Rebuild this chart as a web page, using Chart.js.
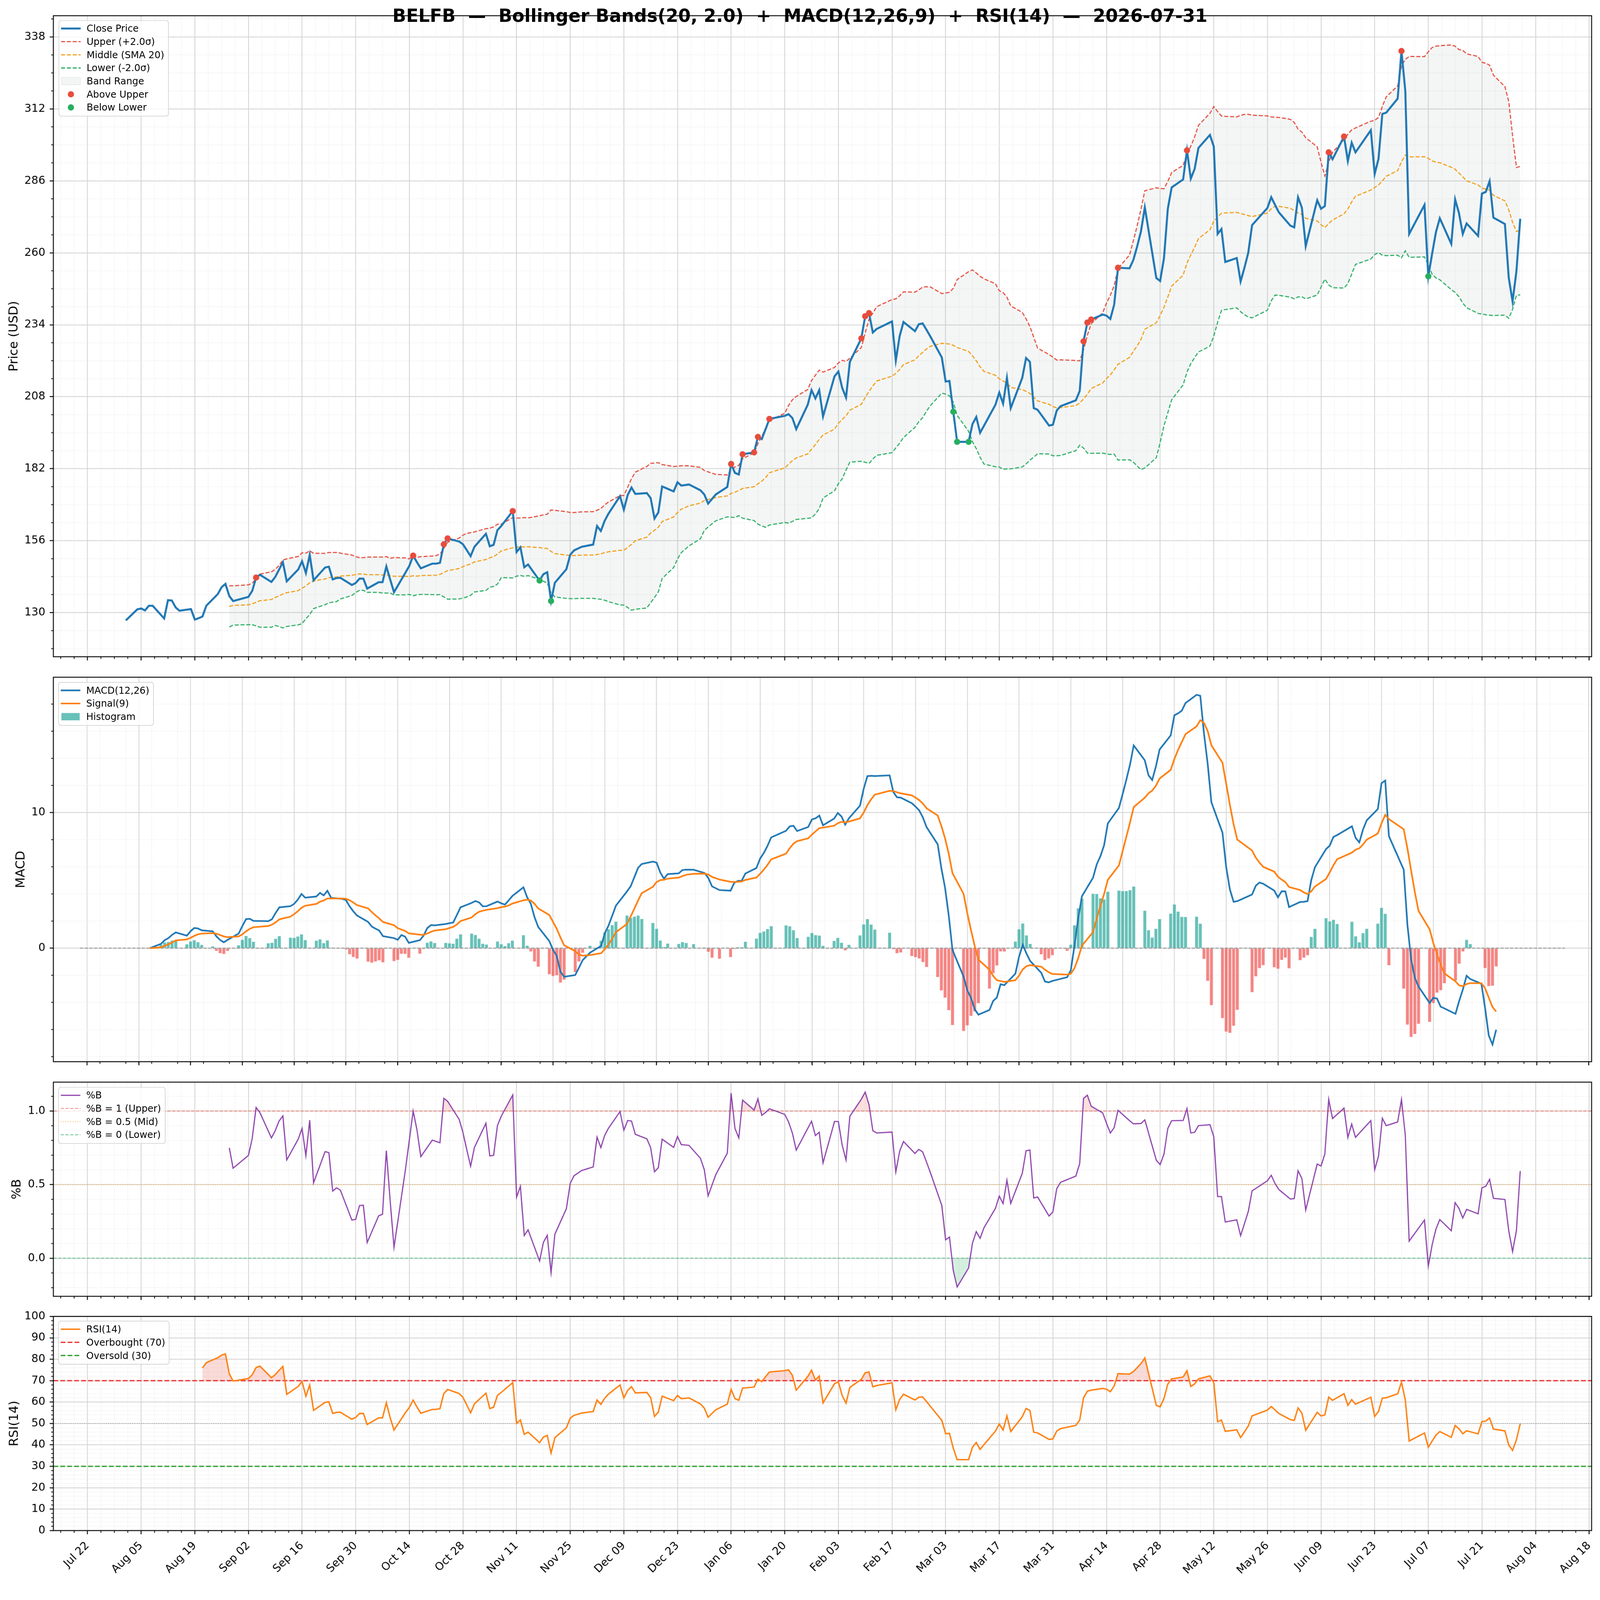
<!DOCTYPE html>
<html>
<head>
<meta charset="utf-8">
<title>BELFB Bollinger / MACD / RSI</title>
<script src="https://cdn.jsdelivr.net/npm/chart.js@4.4.1/dist/chart.umd.min.js"></script>
<style>
  html, body { margin: 0; padding: 0; background: #fff; width: 100%; height: 100%; overflow: hidden; font-family: 'DejaVu Sans', sans-serif; }
  #page { position: absolute; left: 0; top: 0; width: 4378px; height: 4322px; overflow: hidden; transform-origin: 0 0; background: #fff; }
  canvas { position: absolute; left: 0; }
  .title { position: absolute; left: 0; top: 20px; width: 4378px; text-align: center; font-weight: bold; font-size: 49px; line-height: 48px; white-space: pre; z-index: 5; }
  .legend { position: absolute; z-index: 5; background: rgba(255,255,255,0.8); border: 2.5px solid #d4d4d4; border-radius: 8px; padding: 3px 10px 5px 5px; font-size: 26px; }
  .legend .row { display: flex; align-items: center; height: 36px; white-space: pre; }
  .legend svg { width: 54px; height: 24px; margin-right: 16px; flex: none; }
</style>
</head>
<body>
<div id="page">
<div class="title">BELFB  —  Bollinger Bands(20, 2.0)  +  MACD(12,26,9)  +  RSI(14)  —  2026-07-31</div>

<canvas id="priceChart"></canvas>
<canvas id="macdChart"></canvas>
<canvas id="pctbChart"></canvas>
<canvas id="rsiChart"></canvas>

<div class="legend" style="left:160px; top:55px;">
  <div class="row"><svg><line x1="0" y1="12" x2="54" y2="12" stroke="#1f77b4" stroke-width="5.5"/></svg>Close Price</div>
  <div class="row"><svg><line x1="0" y1="12" x2="54" y2="12" stroke="#e74c3c" stroke-width="3" stroke-dasharray="11 5"/></svg>Upper (+2.0σ)</div>
  <div class="row"><svg><line x1="0" y1="12" x2="54" y2="12" stroke="#f39c12" stroke-width="3" stroke-dasharray="11 5"/></svg>Middle (SMA 20)</div>
  <div class="row"><svg><line x1="0" y1="12" x2="54" y2="12" stroke="#27ae60" stroke-width="3" stroke-dasharray="11 5"/></svg>Lower (-2.0σ)</div>
  <div class="row"><svg><rect x="1" y="2" width="52" height="20" fill="rgba(149,165,166,0.1)" stroke="rgba(149,165,166,0.18)" stroke-width="2"/></svg>Band Range</div>
  <div class="row"><svg><circle cx="27" cy="12" r="8.5" fill="#e74c3c"/></svg>Above Upper</div>
  <div class="row"><svg><circle cx="27" cy="12" r="8.5" fill="#27ae60"/></svg>Below Lower</div>
</div>

<div class="legend" style="left:159px; top:1866px;">
  <div class="row"><svg><line x1="0" y1="12" x2="54" y2="12" stroke="#1f77b4" stroke-width="4.5"/></svg>MACD(12,26)</div>
  <div class="row"><svg><line x1="0" y1="12" x2="54" y2="12" stroke="#ff7f0e" stroke-width="4.5"/></svg>Signal(9)</div>
  <div class="row"><svg><rect x="2" y="2" width="50" height="20" fill="rgba(38,166,154,0.7)"/></svg>Histogram</div>
</div>

<div class="legend" style="left:159px; top:2974px;">
  <div class="row"><svg><line x1="0" y1="12" x2="54" y2="12" stroke="#8e44ad" stroke-width="3.2"/></svg>%B</div>
  <div class="row"><svg><line x1="0" y1="12" x2="54" y2="12" stroke="rgba(231,76,60,0.6)" stroke-width="2.5" stroke-dasharray="9 4"/></svg>%B = 1 (Upper)</div>
  <div class="row"><svg><line x1="0" y1="12" x2="54" y2="12" stroke="rgba(243,156,18,0.6)" stroke-width="2.5" stroke-dasharray="2.5 4"/></svg>%B = 0.5 (Mid)</div>
  <div class="row"><svg><line x1="0" y1="12" x2="54" y2="12" stroke="rgba(39,174,96,0.6)" stroke-width="2.5" stroke-dasharray="9 4"/></svg>%B = 0 (Lower)</div>
</div>

<div class="legend" style="left:159px; top:3614px;">
  <div class="row"><svg><line x1="0" y1="12" x2="54" y2="12" stroke="#ff7f0e" stroke-width="3.8"/></svg>RSI(14)</div>
  <div class="row"><svg><line x1="0" y1="12" x2="54" y2="12" stroke="#ee3333" stroke-width="3.5" stroke-dasharray="13 6"/></svg>Overbought (70)</div>
  <div class="row"><svg><line x1="0" y1="12" x2="54" y2="12" stroke="#2ca02c" stroke-width="3.5" stroke-dasharray="13 6"/></svg>Oversold (30)</div>
</div>
</div>

<script>
// ---- data (trading days, NYSE holidays absent) ----
const tradeDates = [
  '2025-08-01','2025-08-04','2025-08-05','2025-08-06','2025-08-07','2025-08-08','2025-08-11','2025-08-12','2025-08-13','2025-08-14','2025-08-15','2025-08-18','2025-08-19','2025-08-20','2025-08-21','2025-08-22','2025-08-25','2025-08-26','2025-08-27','2025-08-28','2025-08-29',
  '2025-09-02','2025-09-03','2025-09-04','2025-09-05','2025-09-08','2025-09-09','2025-09-10','2025-09-11','2025-09-12','2025-09-15','2025-09-16','2025-09-17','2025-09-18','2025-09-19','2025-09-22','2025-09-23','2025-09-24','2025-09-25','2025-09-26','2025-09-29','2025-09-30',
  '2025-10-01','2025-10-02','2025-10-03','2025-10-06','2025-10-07','2025-10-08','2025-10-09','2025-10-10','2025-10-13','2025-10-14','2025-10-15','2025-10-16','2025-10-17','2025-10-20','2025-10-21','2025-10-22','2025-10-23','2025-10-24','2025-10-27','2025-10-28','2025-10-29','2025-10-30','2025-10-31',
  '2025-11-03','2025-11-04','2025-11-05','2025-11-06','2025-11-07','2025-11-10','2025-11-11','2025-11-12','2025-11-13','2025-11-14','2025-11-17','2025-11-18','2025-11-19','2025-11-20','2025-11-21','2025-11-24','2025-11-25','2025-11-26','2025-11-28',
  '2025-12-01','2025-12-02','2025-12-03','2025-12-04','2025-12-05','2025-12-08','2025-12-09','2025-12-10','2025-12-11','2025-12-12','2025-12-15','2025-12-16','2025-12-17','2025-12-18','2025-12-19','2025-12-22','2025-12-23','2025-12-24','2025-12-26','2025-12-29','2025-12-30','2025-12-31',
  '2026-01-02','2026-01-05','2026-01-06','2026-01-07','2026-01-08','2026-01-09','2026-01-12','2026-01-13','2026-01-14','2026-01-15','2026-01-16','2026-01-20','2026-01-21','2026-01-22','2026-01-23','2026-01-26','2026-01-27','2026-01-28','2026-01-29','2026-01-30',
  '2026-02-02','2026-02-03','2026-02-04','2026-02-05','2026-02-06','2026-02-09','2026-02-10','2026-02-11','2026-02-12','2026-02-13','2026-02-17','2026-02-18','2026-02-19','2026-02-20','2026-02-23','2026-02-24','2026-02-25','2026-02-26','2026-02-27',
  '2026-03-02','2026-03-03','2026-03-04','2026-03-05','2026-03-06','2026-03-09','2026-03-10','2026-03-11','2026-03-12','2026-03-13','2026-03-16','2026-03-17','2026-03-18','2026-03-19','2026-03-20','2026-03-23','2026-03-24','2026-03-25','2026-03-26','2026-03-27','2026-03-30','2026-03-31',
  '2026-04-01','2026-04-02','2026-04-06','2026-04-07','2026-04-08','2026-04-09','2026-04-10','2026-04-13','2026-04-14','2026-04-15','2026-04-16','2026-04-17','2026-04-20','2026-04-21','2026-04-22','2026-04-23','2026-04-24','2026-04-27','2026-04-28','2026-04-29','2026-04-30',
  '2026-05-01','2026-05-04','2026-05-05','2026-05-06','2026-05-07','2026-05-08','2026-05-11','2026-05-12','2026-05-13','2026-05-14','2026-05-15','2026-05-18','2026-05-19','2026-05-20','2026-05-21','2026-05-22','2026-05-26','2026-05-27','2026-05-28','2026-05-29',
  '2026-06-01','2026-06-02','2026-06-03','2026-06-04','2026-06-05','2026-06-08','2026-06-09','2026-06-10','2026-06-11','2026-06-12','2026-06-15','2026-06-16','2026-06-17','2026-06-18','2026-06-22','2026-06-23','2026-06-24','2026-06-25','2026-06-26','2026-06-29','2026-06-30',
  '2026-07-01','2026-07-02','2026-07-06','2026-07-07','2026-07-08','2026-07-09','2026-07-10','2026-07-13','2026-07-14','2026-07-15','2026-07-16','2026-07-17','2026-07-20','2026-07-21','2026-07-22','2026-07-23','2026-07-24','2026-07-27','2026-07-28','2026-07-29','2026-07-30','2026-07-31'
];

const closePrice = [
  127.2, 131.2, 131.5, 130.8, 132.5, 132.5, 127.9, 134.5, 134.4, 131.9, 130.7, 131.3, 127.5, 128.0, 128.6, 132.5, 136.7, 139.2, 140.4, 136.0, 134.2,
  135.7, 137.9, 142.7, 143.7, 141.1, 142.9, 145.6, 148.2, 141.3, 145.6, 148.6, 144.3, 150.9, 141.7, 146.3, 146.6, 142.0, 142.5, 142.6, 140.0, 140.7,
  142.3, 142.3, 138.7, 141.0, 141.0, 146.7, 142.0, 137.4, 144.5, 146.9, 150.6, 148.2, 146.0, 147.7, 147.7, 148.0, 154.7, 156.8, 155.7, 154.7, 152.6, 150.4, 153.8,
  158.5, 154.0, 154.5, 159.8, 161.3, 166.7, 151.9, 153.6, 146.4, 147.4, 141.6, 143.9, 144.6, 134.2, 140.8, 145.7, 150.9, 152.5, 153.8,
  154.6, 161.3, 159.5, 163.2, 165.8, 172.1, 167.2, 172.5, 175.2, 172.9, 173.2, 171.4, 164.0, 166.2, 175.6, 173.8, 177.1, 175.9, 176.3, 174.2, 172.7, 169.4,
  172.7, 175.4, 183.7, 180.5, 179.9, 187.2, 187.9, 193.5, 192.7, 196.3, 200.0, 201.1, 201.7, 200.3, 196.3, 205.1, 210.4, 207.4, 210.4, 200.9,
  215.4, 217.1, 211.2, 207.7, 220.6, 229.1, 237.1, 238.2, 231.2, 232.5, 235.2, 221.1, 229.9, 235.0, 231.7, 234.2, 234.5, 232.2, 229.8,
  222.2, 213.5, 213.7, 202.6, 191.7, 191.7, 198.1, 200.7, 195.0, 197.5, 205.1, 209.5, 205.5, 214.8, 203.9, 214.8, 222.0, 220.6, 203.9, 203.3, 197.6, 197.9,
  203.0, 204.6, 206.7, 210.1, 228.0, 234.8, 235.9, 237.7, 237.3, 236.1, 241.3, 254.6, 254.4, 257.4, 262.3, 267.8, 276.4, 250.9, 249.8, 258.1, 275.9,
  283.6, 286.5, 297.0, 286.8, 290.3, 297.9, 302.6, 298.4, 266.8, 268.6, 256.7, 258.1, 249.6, 254.6, 260.0, 270.0, 276.2, 280.1, 277.3, 274.6,
  269.8, 269.2, 280.1, 276.3, 262.4, 279.0, 275.9, 276.9, 296.3, 293.8, 302.0, 293.1, 299.8, 296.3, 304.3, 288.5, 293.9, 310.2, 310.6, 315.7, 332.9,
  318.4, 266.8, 277.3, 251.5, 259.7, 267.5, 272.5, 263.2, 279.3, 274.4, 266.8, 270.6, 266.1, 281.4, 282.0, 285.9, 272.7, 270.4, 251.0, 242.4, 253.3, 272.3
];

const xTickDates = ['2025-07-22','2025-08-05','2025-08-19','2025-09-02','2025-09-16','2025-09-30','2025-10-14','2025-10-28','2025-11-11','2025-11-25','2025-12-09','2025-12-23',
  '2026-01-06','2026-01-20','2026-02-03','2026-02-17','2026-03-03','2026-03-17','2026-03-31','2026-04-14','2026-04-28','2026-05-12','2026-05-26','2026-06-09','2026-06-23',
  '2026-07-07','2026-07-21','2026-08-04','2026-08-18'];
const xTickLabels = ['Jul 22','Aug 05','Aug 19','Sep 02','Sep 16','Sep 30','Oct 14','Oct 28','Nov 11','Nov 25','Dec 09','Dec 23',
  'Jan 06','Jan 20','Feb 03','Feb 17','Mar 03','Mar 17','Mar 31','Apr 14','Apr 28','May 12','May 26','Jun 09','Jun 23',
  'Jul 07','Jul 21','Aug 04','Aug 18'];

const priceTicks = [130, 156, 182, 208, 234, 260, 286, 312, 338];
const macdTicks = [0, 10];
const pctbTicks = [0, 0.5, 1];
const rsiTicks = [0, 10, 20, 30, 40, 50, 60, 70, 80, 90, 100];
const pctbLevels = [1, 0.5, 0];
const rsiLevels = [70, 50, 30];

// ---- layout (pixels in the 4378 x 4322 page) ----
const PAGE_W = 4378, PAGE_H = 4322;
const PLOT_LEFT = 146, PLOT_RIGHT = 4355, CANVAS_W = 4440, PAD_TOP = 40;
const PANELS = {
  price: { top: 43, bottom: 1797 },
  macd:  { top: 1853, bottom: 2905 },
  pctb:  { top: 2961, bottom: 3547 },
  rsi:   { top: 3602, bottom: 4188 }
};
const X_MIN = -8.92, X_MAX = 392.63;   // days after 2025-07-22

// keep the whole figure inside the viewport, whatever its css size
const fit = Math.min(1, window.innerWidth / PAGE_W, window.innerHeight / PAGE_H);
document.getElementById('page').style.transform = 'scale(' + fit + ')';

const BLUE = '#1f77b4', ORANGE = '#ff7f0e';
const UP_RED = '#e74c3c', MID_ORANGE = '#f39c12', LO_GREEN = '#27ae60';
const BAND_FILL = 'rgba(149,165,166,0.1)';
const GRID_MAJOR = '#d2d2d2', GRID_MINOR = '#e0e0e0';
const NONE = 'rgba(0,0,0,0)';

Chart.defaults.font.family = "'DejaVu Sans', sans-serif";
Chart.defaults.color = '#000';

const DAY0 = Date.UTC(2025, 6, 22);
function dayOf(s) {
  const [y, m, d] = s.split('-').map(Number);
  return (Date.UTC(y, m - 1, d) - DAY0) / 86400000;
}
const xs = tradeDates.map(dayOf);

// ---- indicator series derived from the close readings (as the title defines) ----
const midBand = [], upperBand = [], lowerBand = [];
for (let i = 0; i < closePrice.length; i++) {
  if (i < 19) { midBand.push(null); upperBand.push(null); lowerBand.push(null); continue; }
  const win = closePrice.slice(i - 19, i + 1);
  const m = win.reduce((a, b) => a + b, 0) / 20;
  const sd = Math.sqrt(win.reduce((a, b) => a + (b - m) * (b - m), 0) / 19);
  midBand.push(m); upperBand.push(m + 2 * sd); lowerBand.push(m - 2 * sd);
}
const pctB = closePrice.map((c, i) => upperBand[i] === null ? null : (c - lowerBand[i]) / (upperBand[i] - lowerBand[i]));

function ema(arr, span) {
  const a = 2 / (span + 1), out = [arr[0]];
  for (let i = 1; i < arr.length; i++) out.push(a * arr[i] + (1 - a) * out[i - 1]);
  return out;
}
const ema12 = ema(closePrice, 12), ema26 = ema(closePrice, 26);
const macdLine = ema12.map((v, i) => v - ema26[i]);
const signalLine = ema(macdLine, 9);
const histogram = macdLine.map((v, i) => v - signalLine[i]);

const rsi = closePrice.map(() => null);
let avgGain = 0, avgLoss = 0;
for (let i = 1; i < closePrice.length; i++) {
  const d = closePrice[i] - closePrice[i - 1];
  const g = Math.max(d, 0), l = Math.max(-d, 0);
  if (i === 1) { avgGain = g; avgLoss = l; }
  else { avgGain = avgGain * 13 / 14 + g / 14; avgLoss = avgLoss * 13 / 14 + l / 14; }
  if (i >= 14) rsi[i] = avgLoss === 0 ? 100 : 100 - 100 / (1 + avgGain / avgLoss);
}

const pts = ys => ys.map((y, i) => ({ x: xs[i], y })).filter(p => p.y !== null);
const hline = v => [{ x: X_MIN, y: v }, { x: X_MAX, y: v }];
const aboveUpper = closePrice.map((c, i) => ({ x: xs[i], y: c, hit: upperBand[i] !== null && c > upperBand[i] })).filter(p => p.hit);
const belowLower = closePrice.map((c, i) => ({ x: xs[i], y: c, hit: lowerBand[i] !== null && c < lowerBand[i] })).filter(p => p.hit);

// minor tick positions (like matplotlib's AutoMinorLocator)
function minorSteps(from, to, step, isMajor) {
  const out = [];
  for (let k = Math.ceil(from / step - 1e-9); k * step <= to + 1e-9; k++) {
    const v = +(k * step).toFixed(6);
    if (!isMajor(v)) out.push(v);
  }
  return out;
}
const minorX = minorSteps(X_MIN, X_MAX, 3.5, v => Math.abs(v % 14) < 1e-6);

// minor grid, minor ticks and the four spines
const axesDecor = {
  id: 'axesDecor',
  beforeDatasetsDraw(chart, args, opts) {
    const { ctx, chartArea: a, scales: { x, y } } = chart;
    ctx.save();
    ctx.strokeStyle = GRID_MINOR; ctx.lineWidth = 1.6; ctx.setLineDash([1.6, 3.2]);
    ctx.beginPath();
    opts.minorY.forEach(v => { const p = y.getPixelForValue(v); ctx.moveTo(a.left, p); ctx.lineTo(a.right, p); });
    minorX.forEach(v => { const p = x.getPixelForValue(v); ctx.moveTo(p, a.top); ctx.lineTo(p, a.bottom); });
    ctx.stroke();
    ctx.setLineDash([]); ctx.strokeStyle = '#000'; ctx.lineWidth = 2;
    ctx.beginPath();
    opts.minorY.forEach(v => { const p = y.getPixelForValue(v); ctx.moveTo(a.left, p); ctx.lineTo(a.left - 6, p); });
    minorX.forEach(v => { const p = x.getPixelForValue(v); ctx.moveTo(p, a.bottom); ctx.lineTo(p, a.bottom + 6); });
    ctx.stroke();
    ctx.restore();
  },
  afterDraw(chart) {
    const { ctx, chartArea: a } = chart;
    ctx.save();
    ctx.strokeStyle = '#000'; ctx.lineWidth = 2.5;
    ctx.strokeRect(a.left, a.top, a.right - a.left, a.bottom - a.top);
    ctx.restore();
  }
};

function xScale(showLabels, height) {
  return {
    type: 'linear', min: X_MIN, max: X_MAX,
    afterBuildTicks: s => { s.ticks = xTickDates.map(d => ({ value: dayOf(d) })); },
    afterFit: s => { s.height = height; },
    ticks: { autoSkip: false, minRotation: 45, maxRotation: 45, padding: 14, color: '#000', font: { size: 30 },
      callback: (v, i) => showLabels ? xTickLabels[i] : '' },
    grid: { color: GRID_MAJOR, lineWidth: 2.2, tickLength: 10, tickColor: '#000', tickWidth: 2.5 },
    border: { display: false }
  };
}

function yScale(o) {
  return {
    type: 'linear', min: o.min, max: o.max,
    afterBuildTicks: s => { s.ticks = o.ticks.map(v => ({ value: v })); },
    afterFit: s => { s.width = PLOT_LEFT; },
    ticks: { padding: 12, color: '#000', font: { size: 30 }, callback: o.fmt },
    grid: { color: GRID_MAJOR, lineWidth: 2.2, tickLength: 10, tickColor: '#000', tickWidth: 2.5 },
    border: { display: false },
    title: { display: true, text: o.title, color: '#000', font: { size: 34 }, padding: { top: o.titlePad, bottom: 0 } }
  };
}

function buildChart(id, panel, xAxisH, showX, yOpt, minorY, datasets) {
  const cv = document.getElementById(id);
  const h = panel.bottom - panel.top + PAD_TOP + xAxisH;
  cv.width = CANVAS_W; cv.height = h;
  cv.style.width = CANVAS_W + 'px'; cv.style.height = h + 'px';
  cv.style.top = (panel.top - PAD_TOP) + 'px';
  return new Chart(cv, {
    type: 'line',
    data: { datasets },
    options: {
      responsive: false, animation: false, devicePixelRatio: 1,
      layout: { padding: { left: 0, top: PAD_TOP, right: CANVAS_W - PLOT_RIGHT, bottom: 0 } },
      elements: { point: { radius: 0 }, line: { tension: 0 } },
      plugins: { legend: { display: false }, tooltip: { enabled: false }, axesDecor: { minorY } },
      scales: { x: xScale(showX, xAxisH), y: yScale(yOpt) }
    },
    plugins: [axesDecor]
  });
}

// ---- price + Bollinger bands ----
buildChart('priceChart', PANELS.price, 40, false,
  { min: 114.07, max: 345.65, ticks: priceTicks, fmt: v => String(v), title: 'Price (USD)', titlePad: 18.6 },
  minorSteps(114.07, 345.65, 6.5, v => Math.abs((v - 130) % 26) < 1e-6),
  [
    { label: 'Above Upper', data: aboveUpper, showLine: false, pointRadius: 8.5, pointBackgroundColor: UP_RED, pointBorderWidth: 0, order: 0 },
    { label: 'Below Lower', data: belowLower, showLine: false, pointRadius: 8.5, pointBackgroundColor: LO_GREEN, pointBorderWidth: 0, order: 0 },
    { label: 'Close Price', data: pts(closePrice), borderColor: BLUE, borderWidth: 5.5, order: 1 },
    { label: 'Middle (SMA 20)', data: pts(midBand), borderColor: MID_ORANGE, borderWidth: 3, borderDash: [11, 5], order: 2 },
    { label: 'Upper (+2.0σ)', data: pts(upperBand), borderColor: UP_RED, borderWidth: 3, borderDash: [11, 5], backgroundColor: BAND_FILL, fill: '+1', order: 3 },
    { label: 'Lower (-2.0σ)', data: pts(lowerBand), borderColor: LO_GREEN, borderWidth: 3, borderDash: [11, 5], order: 4 }
  ]);

// ---- MACD ----
buildChart('macdChart', PANELS.macd, 40, false,
  { min: -8.37, max: 19.98, ticks: macdTicks, fmt: v => String(v), title: 'MACD', titlePad: 37.6 },
  minorSteps(-8.37, 19.98, 2, v => v === 0 || v === 10),
  [
    { label: 'Signal(9)', data: pts(signalLine), borderColor: ORANGE, borderWidth: 4.5, order: 0 },
    { label: 'MACD(12,26)', data: pts(macdLine), borderColor: BLUE, borderWidth: 4.5, order: 1 },
    { label: 'zero', data: hline(0), borderColor: '#8c8c8c', borderWidth: 2.2, borderDash: [9, 4], order: 2 },
    { type: 'bar', label: 'Histogram', data: pts(histogram), barPercentage: 1, categoryPercentage: 0.8, borderWidth: 0,
      backgroundColor: c => (c.parsed && c.parsed.y < 0) ? 'rgba(239,83,80,0.7)' : 'rgba(38,166,154,0.7)', order: 3 }
  ]);

// ---- %B ----
buildChart('pctbChart', PANELS.pctb, 40, false,
  { min: -0.2586, max: 1.196, ticks: pctbTicks, fmt: v => v.toFixed(1), title: '%B', titlePad: 27 },
  minorSteps(-0.2586, 1.196, 0.1, v => Math.abs(v * 2 - Math.round(v * 2)) < 1e-6),
  [
    { label: '%B', data: pts(pctB), borderColor: '#8e44ad', borderWidth: 3.2,
      fill: { target: { value: pctbLevels[0] }, above: 'rgba(231,76,60,0.18)', below: NONE }, order: 0 },
    { label: '%B lower fill', data: pts(pctB), borderColor: NONE, borderWidth: 1,
      fill: { target: { value: pctbLevels[2] }, above: NONE, below: 'rgba(39,174,96,0.2)' }, order: 1 },
    { label: '%B = 1 (Upper)', data: hline(pctbLevels[0]), borderColor: 'rgba(231,76,60,0.6)', borderWidth: 2.5, borderDash: [9, 4], order: 2 },
    { label: '%B = 0.5 (Mid)', data: hline(pctbLevels[1]), borderColor: 'rgba(243,156,18,0.6)', borderWidth: 2.5, borderDash: [2.5, 4], order: 2 },
    { label: '%B = 0 (Lower)', data: hline(pctbLevels[2]), borderColor: 'rgba(39,174,96,0.6)', borderWidth: 2.5, borderDash: [9, 4], order: 2 }
  ]);

// ---- RSI ----
buildChart('rsiChart', PANELS.rsi, 140, true,
  { min: 0, max: 100, ticks: rsiTicks, fmt: v => String(v), title: 'RSI(14)', titlePad: 19.6 },
  minorSteps(0, 100, 2, v => v % 10 === 0),
  [
    { label: 'RSI(14)', data: pts(rsi), borderColor: ORANGE, borderWidth: 3.8,
      fill: { target: { value: rsiLevels[0] }, above: 'rgba(231,76,60,0.2)', below: NONE }, order: 0 },
    { label: 'RSI lower fill', data: pts(rsi), borderColor: NONE, borderWidth: 1,
      fill: { target: { value: rsiLevels[2] }, above: NONE, below: 'rgba(39,174,96,0.2)' }, order: 1 },
    { label: 'Overbought (70)', data: hline(rsiLevels[0]), borderColor: '#ee3333', borderWidth: 3.5, borderDash: [13, 6], order: 2 },
    { label: 'Mid (50)', data: hline(rsiLevels[1]), borderColor: '#999999', borderWidth: 2, borderDash: [2, 4], order: 2 },
    { label: 'Oversold (30)', data: hline(rsiLevels[2]), borderColor: '#2ca02c', borderWidth: 3.5, borderDash: [13, 6], order: 2 }
  ]);
</script>
</body>
</html>
